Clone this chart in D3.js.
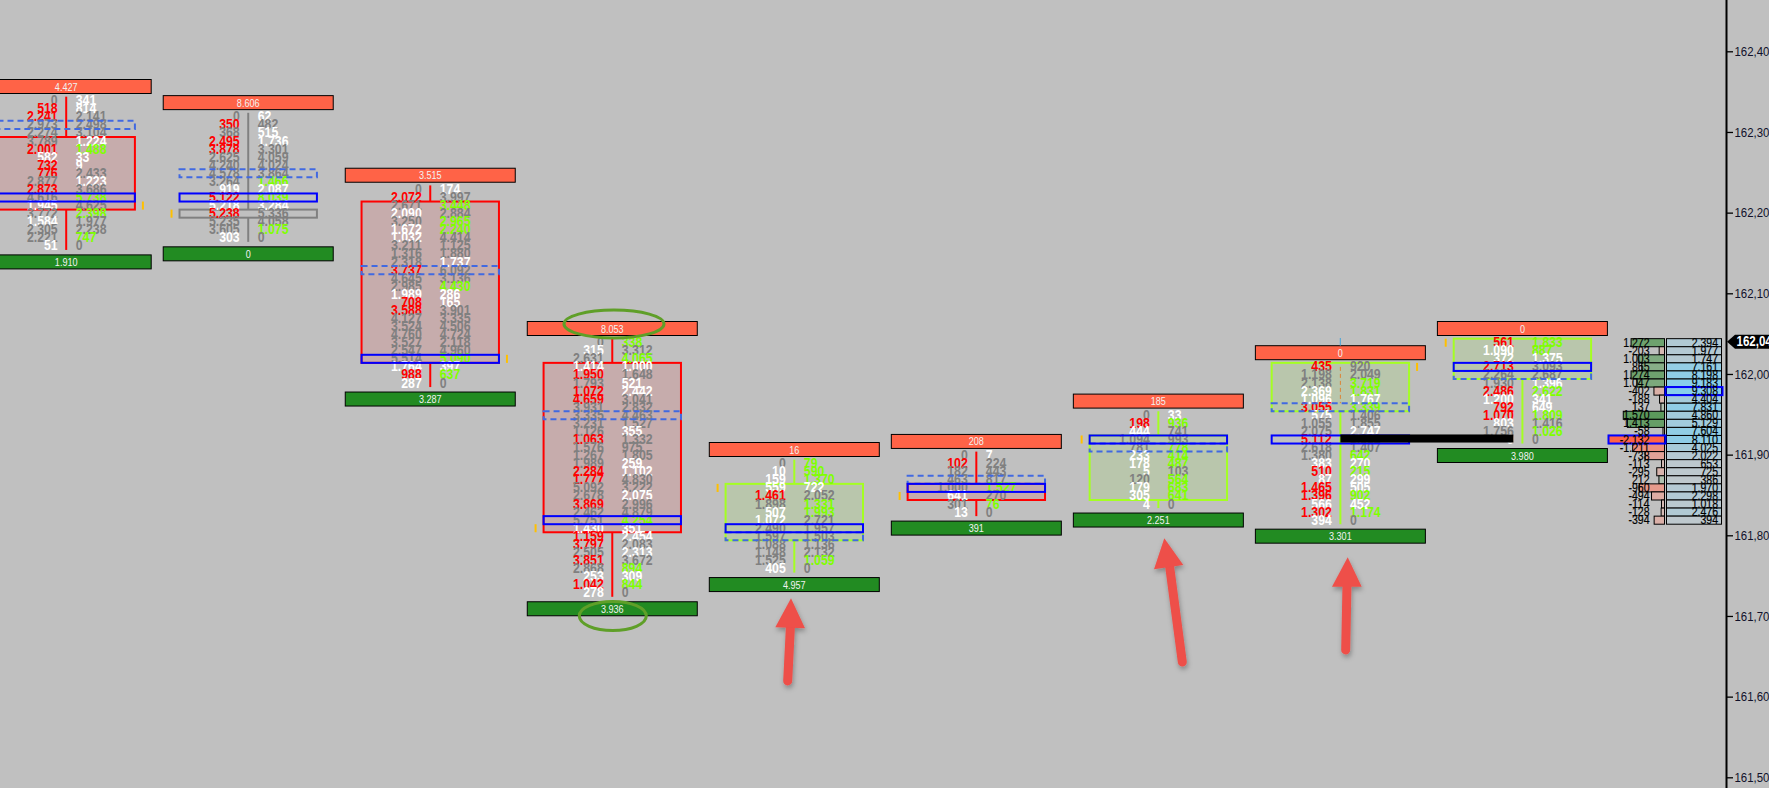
<!DOCTYPE html>
<html><head><meta charset="utf-8">
<script src="https://cdn.jsdelivr.net/npm/d3@7/dist/d3.min.js"></script>
<style>html,body{margin:0;padding:0;background:#c0c0c0;overflow:hidden}svg{display:block}</style>
</head><body><svg id="c" width="1769" height="788"></svg>
<script>
// ---- footprint data, one column per bar ----
const topPrices=[162.34,162.32,162.23,162.04,161.89,161.90,161.95,162.01,162.04];
const headerValues=[4427,8606,3515,8053,16,208,185,0,0];
const footerValues=[1910,0,3287,3936,4957,391,2251,3301,3980];
const bids=[
[0,518,2241,2973,2274,3789,2001,582,732,776,2877,2873,4616,1945,3772,1584,2305,2221,51],
[0,350,368,2495,3878,2625,4240,4578,3264,919,5122,5218,5238,5235,3605,303],
[0,2072,2671,2090,3250,1672,1032,3211,1316,2318,3737,4645,2985,1989,708,3588,4127,3524,4760,3527,2547,5514,1764,988,287],
[0,315,2631,1414,1950,1793,1072,4659,3931,3335,3231,1126,1063,1576,1267,1989,2284,1777,5092,2678,3869,2462,5751,1430,1159,3797,2505,3851,2868,253,1042,278],
[0,10,159,559,1461,1898,507,1072,2490,1597,1088,1148,1525,405],
[0,102,182,463,1000,641,301,13],
[0,198,444,1094,781,233,178,5,120,179,305,4],
[435,1198,2138,2369,1096,3055,575,1055,2075,5112,2618,1380,383,510,87,1465,1396,566,1302,394],
[561,1090,372,2713,2264,1930,2486,1200,792,1070,803,1756,9]];
const asks=[
[341,814,2141,2498,3104,1224,1488,33,9,2433,1223,3686,5738,4625,2398,1977,2238,747,0],
[62,482,515,1736,3301,4059,4024,3864,1466,2087,8039,3284,5336,4058,1075,0],
[174,3997,3448,2884,2965,2240,4414,1125,1880,1737,6092,3136,4430,286,165,3901,3335,4506,4724,2118,4960,5090,397,637,0],
[338,3312,4065,1000,1648,521,2442,3041,2832,4463,1527,355,1332,975,1805,259,1102,4830,3222,2075,2996,4879,4254,351,2454,2083,2313,3672,894,309,844,0],
[79,590,1370,722,2052,1331,1993,2721,1957,1503,1136,2132,1059,0],
[7,224,443,817,1527,270,76,0],
[33,936,741,993,778,414,487,103,564,683,641,0],
[920,2049,3719,1831,1767,3339,1406,1855,2747,2989,1407,642,270,215,299,505,902,452,1174,0],
[1833,887,1375,3093,2687,1396,2622,341,649,1809,1416,1026,0]];
// r = sell imbalance, l = buy imbalance, w = low volume, g = normal
const bidKinds=["grrgggrwrrgrgwgwggw","grgrrggggwrwrggw","grgwgwwgggrggwrrggggggwrw","gwgwrgrrggggrgggrrggrggwrrgrgwrw","gwwwrgwwgggggw","grgggwgw","grwggwwwgwww","rggwwrwggrggwrwrrwrw","rwwrggrwrrwgw"];
const askKinds=["wwgggwlwwgwglglgglg","wgwwgggglwlwgglg","wglgllgggwgglwwgggggglwlg","lglwgwwggggwgggwwggwgglwwgwglwlg","lllwgllggggglg","wggglglg","wlgglllglllg","ggllwlggwgglwlwwlwlg","llwggwlwwlglg"];
const bodyFirst=[5,12,2,3,3,4,3,0,0];
const bodyLast=[13,12,21,23,9,5,10,5,4];
const bodyKinds=["down","flat","down","down","up","down","up","up","up"];
const valueAreaRow=[3,7,10,9,9,3,4,5,4];
const pocRow=[12,10,21,22,8,4,3,9,3];
const openRow=[13,12,21,23,3,5,3,0,0];
const openSide=[1,-1,1,-1,-1,-1,-1,1,-1];
// ---- right-hand profile ----
const profileTop=162.04;
const profileDelta=[1272,-203,1003,865,1274,1047,-402,-188,137,1570,1413,-58,-2132,-1211,-738,-113,-295,212,-960,-494,-114,-128,-394];
const profileVolume=[2394,1977,1747,7161,8198,9183,9308,4404,7831,4860,5129,7604,8110,4025,2022,653,725,386,1970,2298,1018,2476,394];
const profileVolPoc=6, profileDeltaPoc=12;
// ---- axis ----
const priceTicks=[162.4,162.3,162.2,162.1,162.0,161.9,161.8,161.7,161.6,161.5];
const lastPrice=162.04, currentPrice=161.92;

const svg=d3.select("#c");
const W=1769,H=788;
svg.append("rect").attr("width",W).attr("height",H).attr("fill","#c0c0c0");
const defs=svg.append("defs");
const sh=defs.append("filter").attr("id","sh").attr("x","-40%").attr("y","-20%").attr("width","180%").attr("height","140%");
sh.append("feDropShadow").attr("dx",1).attr("dy",3).attr("stdDeviation",2.5).attr("flood-color","#000").attr("flood-opacity",.3);

const y=d3.scaleLinear().domain([162.4,161.5]).range([51.3,777.3]);
const rowH=Math.abs(y(162)-y(162.01));
const x=d3.scaleLinear().domain([0,8]).range([66.2,1522.4]);
const rowY=p=>y(p)+1;
const loc=d3.formatLocale({decimal:",",thousands:".",grouping:[3],currency:["",""],minus:"-"});
const fmt=loc.format(",d"), axisFmt=loc.format(".2f");
const kindCol={r:"#ff0000",w:"#ffffff",g:"#808080",l:"#7fff00"};
const bodyStroke={down:"#ff0000",up:"#a4ff22",flat:"#808080"};
const bodyFill={down:"rgba(255,0,0,0.1)",up:"rgba(127,255,0,0.1)",flat:"none"};
const halfBar=85, halfBox=68.7;
const numFont="'Liberation Sans',Arial,sans-serif";
// the chart's narrow UI face is approximated by fitting each string to its measured width
const fit=(str,d)=>[...String(str)].reduce((s,c)=>s+(/[0-9]/.test(c)?d:c==="-"?d*.6:d*.5),0);
const fitted=(sel,d)=>sel.attr("textLength",function(){return fit(this.textContent,d)}).attr("lengthAdjust","spacingAndGlyphs");

const cols=topPrices.map((t,i)=>({i,t,cx:x(i)}));
const rowP=(d,k)=>+(d.t-k*0.01).toFixed(2);
const g=svg.selectAll("g.col").data(cols).join("g").attr("class","col");

// wick: drawn only outside the body
const wick=(s)=>s.attr("x1",d=>d.cx).attr("x2",d=>d.cx).attr("stroke",d=>bodyStroke[bodyKinds[d.i]]).attr("stroke-width",2);
g.filter(d=>bodyFirst[d.i]>0).append("line").call(wick).attr("y1",d=>rowY(d.t)-rowH/2).attr("y2",d=>rowY(rowP(d,bodyFirst[d.i]))-rowH/2);
g.append("line").call(wick).attr("y1",d=>rowY(rowP(d,bodyLast[d.i]))+rowH/2).attr("y2",d=>rowY(rowP(d,bids[d.i].length-1))+rowH/2);
// faint trace inside the body of column 8
g.filter(d=>d.i===7).append("line").attr("x1",d=>d.cx).attr("x2",d=>d.cx).attr("y1",d=>rowY(d.t)).attr("y2",d=>rowY(rowP(d,bodyLast[d.i]))-4)
 .attr("stroke","#e8763c").attr("stroke-width",1).attr("stroke-dasharray","4 3");
// body
const bodyRect=s=>s.attr("x",d=>d.cx-halfBox).attr("width",halfBox*2)
 .attr("y",d=>rowY(rowP(d,bodyFirst[d.i]))-rowH/2)
 .attr("height",d=>(bodyLast[d.i]-bodyFirst[d.i]+1)*rowH);
g.append("rect").call(bodyRect).attr("fill",d=>bodyFill[bodyKinds[d.i]]).attr("stroke",d=>bodyStroke[bodyKinds[d.i]]).attr("stroke-width",2);

// current-price bar between last two columns
svg.append("rect").attr("x",x(7)).attr("width",x(8)-x(7)-9).attr("y",rowY(currentPrice)-rowH/2-1).attr("height",rowH).attr("fill","#000");

// header / footer bars
const barText=(sel)=>sel.attr("text-anchor","middle").attr("font-family",numFont).attr("font-size",11).attr("fill","#f2f2f2").attr("dominant-baseline","central");
g.append("rect").attr("x",d=>d.cx-halfBar).attr("width",halfBar*2).attr("y",d=>rowY(d.t)-21.2).attr("height",14)
 .attr("fill","#ff6347").attr("stroke","#000").attr("stroke-width",1);
g.append("text").call(barText).attr("x",d=>d.cx).attr("y",d=>rowY(d.t)-14.2).text(d=>fmt(headerValues[d.i])).call(fitted,5.05);
g.append("rect").attr("x",d=>d.cx-halfBar).attr("width",halfBar*2).attr("y",d=>rowY(rowP(d,bids[d.i].length-1))+9).attr("height",14)
 .attr("fill","#228b22").attr("stroke","#000").attr("stroke-width",1);
g.append("text").call(barText).attr("x",d=>d.cx).attr("y",d=>rowY(rowP(d,bids[d.i].length-1))+16).text(d=>fmt(footerValues[d.i])).call(fitted,5.05);

// cell numbers
g.each(function(d){
  const el=d3.select(this);
  const rows=bids[d.i].map((b,k)=>({k,b,a:asks[d.i][k]}));
  const txt=(s)=>s.attr("font-family",numFont).attr("font-size",13.8).attr("font-weight",700).attr("dominant-baseline","central");
  el.selectAll("text.b").data(rows).join("text").attr("class","b").call(txt).attr("text-anchor","end")
    .attr("x",d.cx-8.5).attr("y",r=>rowY(rowP(d,r.k))).attr("fill",r=>kindCol[bidKinds[d.i][r.k]]).text(r=>fmt(r.b)).call(fitted,6.85);
  el.selectAll("text.a").data(rows).join("text").attr("class","a").call(txt).attr("text-anchor","start")
    .attr("x",d.cx+9.5).attr("y",r=>rowY(rowP(d,r.k))).attr("fill",r=>kindCol[askKinds[d.i][r.k]]).text(r=>fmt(r.a)).call(fitted,6.85);
});
// value area and POC outlines
const oneRow=(s,arr)=>s.attr("x",d=>d.cx-halfBox).attr("width",halfBox*2).attr("y",d=>rowY(rowP(d,arr[d.i]))-rowH/2).attr("height",rowH).attr("fill","none").attr("stroke-width",2);
g.append("rect").call(oneRow,valueAreaRow).attr("stroke","#4169e1").attr("stroke-dasharray","6 4");
g.append("rect").call(oneRow,pocRow).attr("stroke","#0000ff");
// open markers
g.append("rect").attr("x",d=>d.cx+openSide[d.i]*76.7-1).attr("width",2).attr("y",d=>rowY(rowP(d,openRow[d.i]))-rowH/2).attr("height",rowH).attr("fill","#ffc000");
// small tick above column 8
svg.append("line").attr("x1",x(7)).attr("x2",x(7)).attr("y1",338).attr("y2",345.5).attr("stroke","#5aa9d6").attr("stroke-width",1.2);

// ---- profile ----
const deltaW=d3.scaleLinear().domain([0,2132]).range([0,56]);
const posCol=d3.scaleLinear().domain([0,1570]).range(["#bcc6bc","#5c9a5c"]);
const negCol=d3.scaleLinear().domain([0,1000,2132]).range(["#d2c0bb","#e8988a","#ff6347"]);
const volCol=d3.scaleLinear().domain([0,9308]).range(["#c0c8cc","#87ceeb"]);
const prof=profileDelta.map((d,k)=>({k,d,v:profileVolume[k],p:+(profileTop-k*0.01).toFixed(2)}));
const dx=1664.5, vx=1666.5, vw=55;
svg.selectAll("rect.d").data(prof).join("rect").attr("class","d").attr("x",r=>dx-deltaW(Math.abs(r.d))).attr("width",r=>deltaW(Math.abs(r.d)))
  .attr("y",r=>rowY(r.p)-rowH/2).attr("height",rowH).attr("fill",r=>r.d>=0?posCol(r.d):negCol(-r.d)).attr("stroke","#000").attr("stroke-width",1);
svg.selectAll("rect.v").data(prof).join("rect").attr("class","v").attr("x",vx).attr("width",vw)
  .attr("y",r=>rowY(r.p)-rowH/2).attr("height",rowH).attr("fill",r=>volCol(r.v)).attr("stroke","#000").attr("stroke-width",1);
svg.append("rect").attr("x",1608.5).attr("width",dx-1608.5+1).attr("y",rowY(prof[profileDeltaPoc].p)-rowH/2).attr("height",rowH).attr("fill","none").attr("stroke","#0000ff").attr("stroke-width",2);
svg.append("rect").attr("x",vx-1).attr("width",vw+2).attr("y",rowY(prof[profileVolPoc].p)-rowH/2).attr("height",rowH).attr("fill","none").attr("stroke","#0000ff").attr("stroke-width",2);
const ptxt=s=>s.attr("font-family",numFont).attr("font-size",12.6).attr("fill","#000").attr("stroke","#000").attr("stroke-width",.2).attr("text-anchor","end").attr("dominant-baseline","central");
svg.selectAll("text.dt").data(prof).join("text").attr("class","dt").call(ptxt).attr("x",1649.5).attr("y",r=>rowY(r.p)).text(r=>fmt(r.d)).call(fitted,5.85);
svg.selectAll("text.vt").data(prof).join("text").attr("class","vt").call(ptxt).attr("x",1718).attr("y",r=>rowY(r.p)).text(r=>fmt(r.v)).call(fitted,5.85);

// ---- axis ----
const axis=d3.axisRight(y).tickValues(priceTicks).tickSize(6.5).tickPadding(1.5).tickFormat(axisFmt);
const ax=svg.append("g").attr("transform","translate(1726.5,0)").call(axis);
ax.select(".domain").remove();
ax.selectAll("line").attr("stroke","#000").attr("stroke-width",1.3);
ax.selectAll("text").attr("font-family",numFont).attr("font-size",13.4).attr("fill","#10102a").call(fitted,6.35);
svg.append("line").attr("x1",1726.5).attr("x2",1726.5).attr("y1",0).attr("y2",H).attr("stroke","#000").attr("stroke-width",2);
const tagY=y(lastPrice);
svg.append("path").attr("d",d3.line()([[1727,tagY],[1735,tagY-7],[1769,tagY-7],[1769,tagY+7],[1735,tagY+7]])+"Z").attr("fill","#000");
svg.append("text").attr("x",1736.5).attr("y",tagY).attr("dominant-baseline","central").attr("font-family",numFont).attr("font-size",13.8).attr("font-weight",700).attr("fill","#fff").text(axisFmt(lastPrice)).call(fitted,6.4);

// ---- hand-drawn annotations ----
const ellipse=(cx,cy,rx,ry)=>svg.append("ellipse").attr("cx",cx).attr("cy",cy).attr("rx",rx).attr("ry",ry).attr("fill","none").attr("stroke","#5f9f28").attr("stroke-width",3);
ellipse(x(3)+1.7,324,50,14);
ellipse(x(3)+.5,616,33.5,14.5);
const arrow=(tip,left,right,tail,neck)=>{
  const a=svg.append("g").attr("filter","url(#sh)");
  a.append("path").attr("d",d3.line()([neck,tail])).attr("stroke","#ee4f49").attr("stroke-width",9).attr("stroke-linecap","round").attr("fill","none");
  a.append("path").attr("d",d3.line()([tip,left,right])+"Z").attr("fill","#ee4f49");
};
arrow([791,598.3],[775.3,627.3],[805,628.3],[787.7,681],[790.5,625]);
arrow([1164.3,538.3],[1154,569.3],[1183.3,565],[1182.3,662],[1169.3,564]);
arrow([1347.7,557.3],[1332,586.7],[1361.7,586.7],[1345.7,650],[1347,584]);
</script></body></html>
